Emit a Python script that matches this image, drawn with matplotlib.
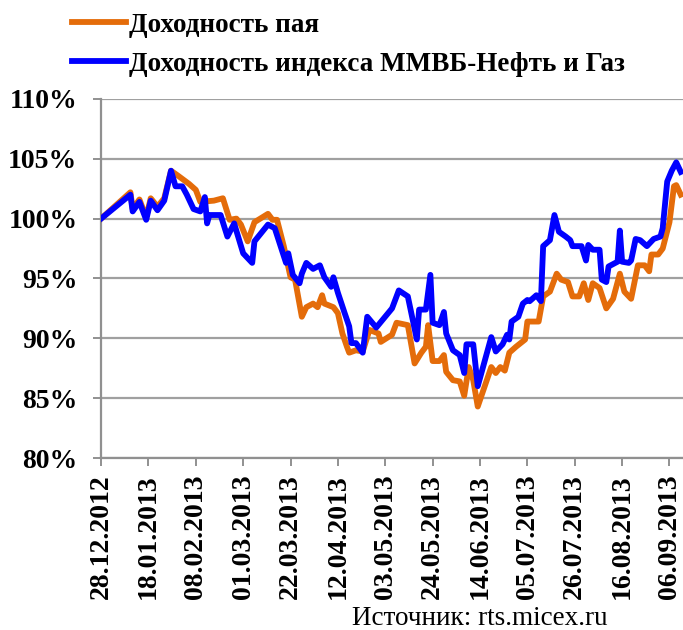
import pandas as pd
import matplotlib
matplotlib.use('Agg')
import matplotlib.pyplot as plt
import matplotlib.dates as mdates
from matplotlib.ticker import FuncFormatter, MultipleLocator, FixedLocator

# calendar days since 28.12.2012 and returns in %
fund_day = [0, 13, 14, 17, 20, 22, 25, 28, 31, 34, 39, 42, 44, 50, 54, 55, 57, 60, 62, 65,
            68, 74, 76, 78, 81, 84, 86, 89, 91, 94, 96, 98, 99, 103, 105, 107, 109, 110, 113, 116,
            119, 123, 124, 129, 131, 136, 139, 142, 144, 145, 147, 150, 152, 153, 156, 159, 161, 163, 165, 167,
            173, 175, 177, 179, 181, 184, 188, 189, 194, 196, 199, 202, 204, 207, 209, 212, 214, 216, 218, 221,
            224, 227, 230, 232, 235, 238, 241, 243, 244, 247, 249, 252, 254, 255, 257]
fund_ret = [100.0, 102.2, 100.8, 101.6, 100.1, 101.7, 101.0, 101.7, 104.0, 103.6, 102.9, 102.4, 101.4, 101.5, 101.7, 101.1, 99.9, 100.0, 99.5, 98.1,
            99.7, 100.4, 99.9, 99.9, 97.7, 95.1, 94.9, 91.8, 92.6, 92.9, 92.6, 93.6, 92.9, 92.6, 92.1, 90.4, 89.3, 88.8, 89.0, 88.9,
            90.7, 90.4, 89.7, 90.3, 91.3, 91.1, 87.9, 88.8, 89.3, 91.1, 88.1, 88.1, 88.6, 87.2, 86.5, 86.4, 85.2, 87.6, 86.5, 84.3,
            87.6, 87.1, 87.6, 87.3, 88.8, 89.3, 89.9, 91.4, 91.4, 93.5, 93.9, 95.4, 94.9, 94.7, 93.5, 93.5, 94.6, 93.2, 94.6, 94.2,
            92.5, 93.3, 95.4, 93.9, 93.3, 96.1, 96.1, 95.6, 97.0, 97.0, 97.5, 99.7, 102.7, 102.8, 102.0]

index_day = [0, 13, 14, 17, 20, 22, 25, 28, 31, 33, 36, 38, 41, 44, 46, 47, 48, 53, 56, 59,
             63, 67, 68, 74, 77, 82, 83, 85, 88, 89, 91, 94, 97, 99, 102, 103, 105, 108, 110, 111,
             113, 116, 118, 122, 129, 132, 136, 140, 141, 144, 146, 147, 150, 152, 153, 156, 159, 161, 162, 165,
             167, 173, 175, 178, 180, 181, 182, 185, 187, 189, 190, 193, 195, 196, 199, 201, 203, 206, 208, 209,
             213, 215, 216, 218, 221, 222, 224, 225, 229, 230, 231, 234, 235, 237, 239, 242, 245, 248, 249, 251,
             253, 255, 257]
index_ret = [100.0, 102.0, 100.6, 101.4, 99.9, 101.5, 100.7, 101.5, 104.0, 102.7, 102.7, 102.0, 100.8, 100.6, 101.8, 99.6, 100.3, 100.3, 98.5, 99.6,
             97.1, 96.3, 98.1, 99.5, 99.2, 96.3, 97.1, 95.3, 94.6, 95.4, 96.3, 95.8, 96.1, 95.1, 94.3, 95.1, 93.8, 92.1, 91.0, 89.6,
             89.6, 88.8, 91.8, 90.9, 92.5, 94.0, 93.5, 89.9, 92.4, 92.4, 95.3, 91.3, 91.1, 92.2, 90.4, 89.0, 88.6, 87.1, 89.5, 89.5,
             86.0, 90.1, 88.9, 89.5, 90.3, 89.9, 91.4, 91.8, 92.9, 93.2, 93.1, 93.6, 93.1, 97.7, 98.2, 100.3, 98.9, 98.5, 98.2, 97.7,
             97.7, 96.5, 97.8, 97.4, 97.4, 94.9, 94.7, 96.0, 96.4, 99.0, 96.4, 96.3, 96.5, 98.3, 98.2, 97.7, 98.3, 98.5, 99.2, 103.1,
             104.0, 104.7, 103.9]

start = pd.Timestamp('2012-12-28')
end = pd.Timestamp('2013-09-12')
fund_dates = start + pd.to_timedelta(fund_day, unit='D')
index_dates = start + pd.to_timedelta(index_day, unit='D')

plt.rcParams['font.family'] = ['Liberation Serif', 'DejaVu Serif']

fig = plt.figure(figsize=(6.83, 6.3), dpi=100)
ax = fig.add_axes([0.148, 0.273, 0.852, 0.570])

ax.plot(fund_dates, fund_ret, color='#E46C0A', lw=4.2, label='Доходность пая',
        solid_joinstyle='round', zorder=3)
ax.plot(index_dates, index_ret, color='#0000FF', lw=4.2, label='Доходность индекса ММВБ-Нефть и Газ',
        solid_joinstyle='round', zorder=4)

ax.set_xlim(start, end)
ax.set_ylim(80, 110)
ax.yaxis.set_major_locator(MultipleLocator(5))
ax.yaxis.set_major_formatter(FuncFormatter(lambda v, p: f'{v:.0f}%'))
ax.xaxis.set_major_locator(FixedLocator(mdates.date2num(pd.date_range(start, end, freq='21D'))))
ax.xaxis.set_major_formatter(mdates.DateFormatter('%d.%m.%Y'))

ax.grid(axis='y', color='#a0a0a0', lw=1.6)
ax.set_axisbelow(True)
for s in ['top', 'right']:
    ax.spines[s].set_visible(False)
for s in ['left', 'bottom']:
    ax.spines[s].set_color('#909090')
    ax.spines[s].set_linewidth(1.6)
ax.tick_params(axis='both', colors='#909090', length=6, width=1.4)
ax.tick_params(axis='y', labelsize=20, labelcolor='black', pad=11)
ax.tick_params(axis='x', labelsize=20, labelcolor='black', pad=6)
for lbl in ax.get_yticklabels() + ax.get_xticklabels():
    lbl.set_fontweight('bold')
plt.setp(ax.get_xticklabels(), rotation=90, ha='center', va='top')

fig.legend(loc='upper left', bbox_to_anchor=(0.105, 0.98), frameon=False,
           prop={'size': 19.5, 'weight': 'bold'}, handlelength=2.0, handletextpad=0.12,
           labelspacing=0.52, borderaxespad=0, borderpad=0)

fig.text(0.889, 0.008, 'Источник: rts.micex.ru', ha='right', va='baseline', fontsize=19.5)

plt.savefig('out.png', dpi=100)
